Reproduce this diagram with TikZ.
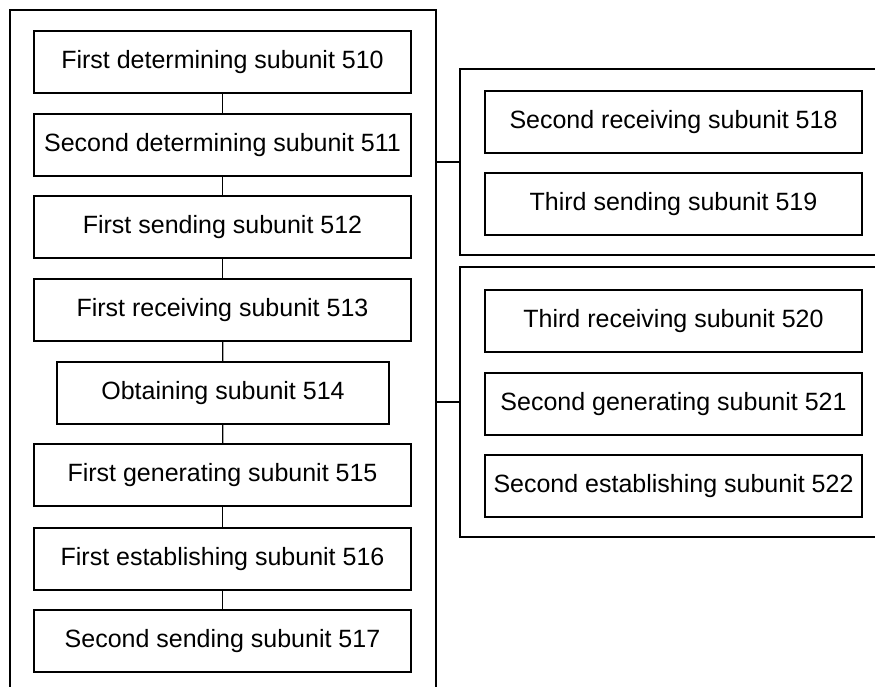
\documentclass[tikz,border=0pt]{standalone}
\usepackage{fontspec}
\setmainfont{Liberation Sans}
\begin{document}
\begin{tikzpicture}[x=1pt,y=-1pt,
  unitbox/.style={draw=black,line width=1.6pt,minimum width=377pt,minimum height=62pt,inner sep=0pt,anchor=north,font=\fontsize{25}{30}\selectfont},
  narrowbox/.style={unitbox,minimum width=332pt},
  frame/.style={draw=black,line width=1.6pt},
  link/.style={draw=black,line width=1.3pt}]
\useasboundingbox (0,0) rectangle (875,686);
% outer frame (open at bottom)
\draw[frame] (10,690) -- (10,10) -- (436,10) -- (436,690);
\coordinate (outerR1) at (436,162);
\coordinate (outerR2) at (436,402);
% right group frames (open at right)
\draw[frame] (880,69) -- (460,69) -- (460,255) -- (880,255);
\draw[frame] (880,267) -- (460,267) -- (460,537) -- (880,537);
\coordinate (grp1) at (460,162);
\coordinate (grp2) at (460,402);
% left column
\node[unitbox] (b510) at (222.5,30) {First determining subunit 510};
\node[unitbox] (b511) at (222.5,113) {Second determining subunit 511};
\node[unitbox] (b512) at (222.5,195) {First sending subunit 512};
\node[unitbox] (b513) at (222.5,278) {First receiving subunit 513};
\node[narrowbox] (b514) at (223,361) {Obtaining subunit 514};
\node[unitbox] (b515) at (222.5,443) {First generating subunit 515};
\node[unitbox] (b516) at (222.5,527) {First establishing subunit 516};
\node[unitbox] (b517) at (222.5,609) {Second sending subunit 517};
% right column
\node[unitbox] (b518) at (673.5,90) {Second receiving subunit 518};
\node[unitbox] (b519) at (673.5,172) {Third sending subunit 519};
\node[unitbox] (b520) at (673.5,289) {Third receiving subunit 520};
\node[unitbox] (b521) at (673.5,372) {Second generating subunit 521};
\node[unitbox] (b522) at (673.5,454) {Second establishing subunit 522};
% connectors
\draw[link] (b510) -- (b511);
\draw[link] (b511) -- (b512);
\draw[link] (b512) -- (b513);
\draw[link] (b513) -- (b514);
\draw[link] (b514) -- (b515);
\draw[link] (b515) -- (b516);
\draw[link] (b516) -- (b517);
\draw[link] (outerR1) -- (grp1);
\draw[link] (outerR2) -- (grp2);
\end{tikzpicture}
\end{document}
